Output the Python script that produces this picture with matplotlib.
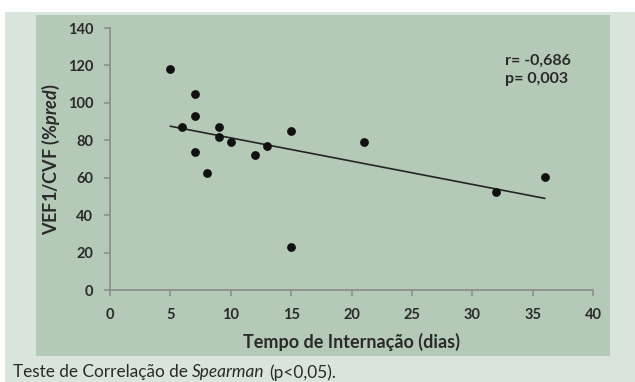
import numpy as np
import matplotlib.pyplot as plt
from matplotlib.patches import Rectangle

# dados
tempo = [5, 6, 7, 7, 7, 8, 9, 9, 10, 12, 13, 15, 15, 21, 32, 36]
vef1_cvf = [118, 87, 105, 93, 74, 62.5, 87, 81.5, 79, 72, 77, 85, 23, 79, 52.5, 60.5]
x_ticks = [0, 5, 10, 15, 20, 25, 30, 35, 40]
y_ticks = [0, 20, 40, 60, 80, 100, 120, 140]

texto_cor = '#2a2a2a'
eixo_cor = '#8c918c'

plt.rcParams['font.family'] = ['Lato', 'DejaVu Sans']
plt.rcParams['mathtext.fontset'] = 'custom'
plt.rcParams['mathtext.it'] = 'Lato:italic:bold'
plt.rcParams['mathtext.rm'] = 'Lato:bold'

fig = plt.figure(figsize=(6.35, 3.82), dpi=100)
fig.patch.set_facecolor('white')

# painel externo e interno
fig.patches.append(Rectangle((5 / 635, 0), 1, 1 - 12 / 382, transform=fig.transFigure,
                             facecolor='#d9e5dc', edgecolor='none', zorder=-10))
fig.patches.append(Rectangle((36 / 635, 1 - 355.7 / 382), (610 - 36) / 635, (355.7 - 14.7) / 382,
                             transform=fig.transFigure, facecolor='#b4cab7', edgecolor='none', zorder=-9))

ax = fig.add_axes([110 / 635, 1 - 290 / 382, (593 - 110) / 635, (290 - 28) / 382])
ax.set_facecolor('none')

ax.scatter(tempo, vef1_cvf, s=40, color='#111111', zorder=3, linewidths=0, clip_on=False)

# linha de tendência
coef = np.polyfit(tempo, vef1_cvf, 1)
xl = np.array([min(tempo), max(tempo)])
ax.plot(xl, np.polyval(coef, xl), color='#252525', linewidth=1.2, zorder=2)

ax.set_xlim(0, 40)
ax.set_ylim(0, 140)
ax.set_xticks(x_ticks)
ax.set_yticks(y_ticks)

for s in ['top', 'right']:
    ax.spines[s].set_visible(False)
for s in ['left', 'bottom']:
    ax.spines[s].set_color(eixo_cor)
    ax.spines[s].set_linewidth(1.3)

ax.tick_params(axis='both', colors=eixo_cor, length=4, width=1.2, labelcolor=texto_cor,
               labelsize=10.5)
ax.tick_params(axis='x', pad=9)
ax.tick_params(axis='y', pad=8)
for lbl in ax.get_xticklabels() + ax.get_yticklabels():
    lbl.set_fontweight('bold')

ax.set_xlabel('Tempo de Internação (dias)', fontsize=13, fontweight='bold', color=texto_cor, labelpad=8)
ax.set_ylabel(r'VEF1/CVF $\mathit{(\%pred)}$', fontsize=13, fontweight='bold', color=texto_cor, labelpad=4)

ax.text(0.817, 0.84, 'r= -0,686\np= 0,003', transform=ax.transAxes, fontsize=11.5,
        fontweight='bold', color=texto_cor, va='center', ha='left', linespacing=1.3)

# legenda da figura
yc = 1 - 372.5 / 382
t1 = fig.text(13 / 635, yc, 'Teste de Correlação de', fontsize=12.4, color=texto_cor,
              va='center', ha='left')
fig.canvas.draw()
bb = t1.get_window_extent()
t2 = fig.text(bb.x1 / fig.bbox.width + 0.007, yc, 'Spearman', fontsize=12.4, color=texto_cor,
              style='italic', va='center', ha='left')
fig.canvas.draw()
bb2 = t2.get_window_extent()
fig.text(bb2.x1 / fig.bbox.width + 0.007, yc, '(p<0,05).', fontsize=12.4,
         color=texto_cor, va='center', ha='left')

fig.savefig('out.png', dpi=100)
